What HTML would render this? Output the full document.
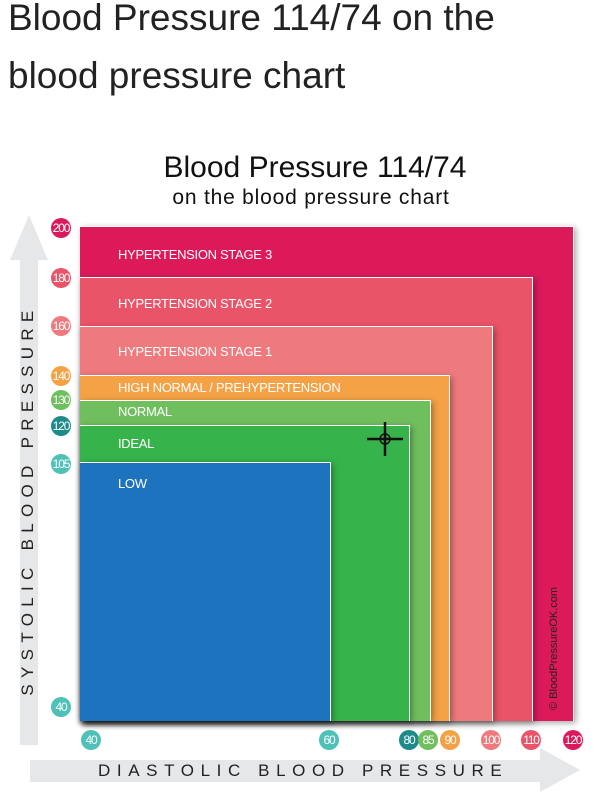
<!DOCTYPE html>
<html><head><style>
body{margin:0;width:614px;height:800px;background:#fff;overflow:hidden;font-family:"Liberation Sans",sans-serif;position:relative}
.t{position:absolute;left:8px;font-size:37px;color:#222;line-height:52px}
.r{position:absolute;left:80px;box-shadow:2px 2px 6px rgba(0,0,0,.35);border-top:1px solid #fff;border-right:1px solid #fff}
.l{position:absolute;left:118px;color:#fff;font-size:13px;letter-spacing:-.3px}
.b{position:absolute;width:20px;height:20px;border-radius:50%;color:#fff;font-size:12px;line-height:20px;text-align:center;letter-spacing:-1.2px;font-family:"Liberation Sans Narrow","Liberation Sans",sans-serif}
</style></head><body>
<div class="t" style="top:-8px">Blood Pressure 114/74 on the</div>
<div class="t" style="top:50px">blood pressure chart</div>
<div style="position:absolute;top:151px;width:614px;text-align:center;left:8px;font-size:30px;color:#111">Blood Pressure 114/74</div>
<div style="position:absolute;top:186px;width:614px;text-align:center;left:4px;font-size:21px;color:#111;letter-spacing:.8px">on the blood pressure chart</div>
<svg style="position:absolute;left:0;top:0" width="614" height="800">
<polygon points="20,745 20,260 10,260 29,215 48,260 38,260 38,745" fill="#e6e7e8"/>
<polygon points="30,760 540,760 540,748 580,770 540,792 540,782 30,782" fill="#e6e7e8"/>
</svg>
<div style="position:absolute;left:8px;top:500px;width:40px;height:0;"><div style="position:absolute;transform:rotate(-90deg);transform-origin:center;left:-180px;top:-10px;width:400px;text-align:center;font-size:17px;letter-spacing:6.3px;color:#222">SYSTOLIC BLOOD PRESSURE</div></div>
<div style="position:absolute;left:98px;top:761px;font-size:17px;letter-spacing:6.6px;color:#222">DIASTOLIC BLOOD PRESSURE</div>
<div class="r" style="top:226px;width:493px;height:494px;background:#dc1a5a"></div>
<div class="r" style="top:277px;width:452px;height:443px;background:#ea5468"></div>
<div class="r" style="top:326px;width:412px;height:394px;background:#ef7a7e"></div>
<div class="r" style="top:375px;width:369px;height:345px;background:#f4a245"></div>
<div class="r" style="top:400px;width:350px;height:320px;background:#6fbf5f"></div>
<div class="r" style="top:425px;width:329px;height:295px;background:#36b34a"></div>
<div class="r" style="top:462px;width:250px;height:258px;background:#1e73be"></div>
<div class="l" style="top:247px">HYPERTENSION STAGE 3</div>
<div class="l" style="top:296px">HYPERTENSION STAGE 2</div>
<div class="l" style="top:344px">HYPERTENSION STAGE 1</div>
<div class="l" style="top:380px">HIGH NORMAL / PREHYPERTENSION</div>
<div class="l" style="top:404px">NORMAL</div>
<div class="l" style="top:436px">IDEAL</div>
<div class="l" style="top:476px">LOW</div>
<div style="position:absolute;left:548px;top:710px;transform:rotate(-90deg);transform-origin:0 0;font-size:11px;color:#222;white-space:nowrap">© BloodPressureOK.com</div>
<svg style="position:absolute;left:0;top:0" width="614" height="800">
<g stroke="#111" stroke-width="2.5" fill="none"><line x1="367" y1="439" x2="403" y2="439"/><line x1="385" y1="422" x2="385" y2="456"/><circle cx="385" cy="439" r="5" stroke-width="1.5"/></g>
</svg>
<div class="b" style="left:51px;top:218px;background:#dc1a5a">200</div>
<div class="b" style="left:51px;top:268px;background:#ea5468">180</div>
<div class="b" style="left:51px;top:316px;background:#ef7a7e">160</div>
<div class="b" style="left:51px;top:366px;background:#f4a245">140</div>
<div class="b" style="left:51px;top:390px;background:#6fbf5f">130</div>
<div class="b" style="left:51px;top:416px;background:#1f8a8a">120</div>
<div class="b" style="left:51px;top:454px;background:#4fc1b8">105</div>
<div class="b" style="left:51px;top:697px;background:#4fc1b8">40</div>
<div class="b" style="left:81px;top:730px;background:#4fc1b8">40</div>
<div class="b" style="left:319px;top:730px;background:#4fc1b8">60</div>
<div class="b" style="left:399px;top:730px;background:#1f8a8a">80</div>
<div class="b" style="left:418px;top:730px;background:#6fbf5f">85</div>
<div class="b" style="left:440px;top:730px;background:#f4a245">90</div>
<div class="b" style="left:481px;top:730px;background:#ef7a7e">100</div>
<div class="b" style="left:521px;top:730px;background:#ea5468">110</div>
<div class="b" style="left:563px;top:730px;background:#dc1a5a">120</div>
</body></html>
